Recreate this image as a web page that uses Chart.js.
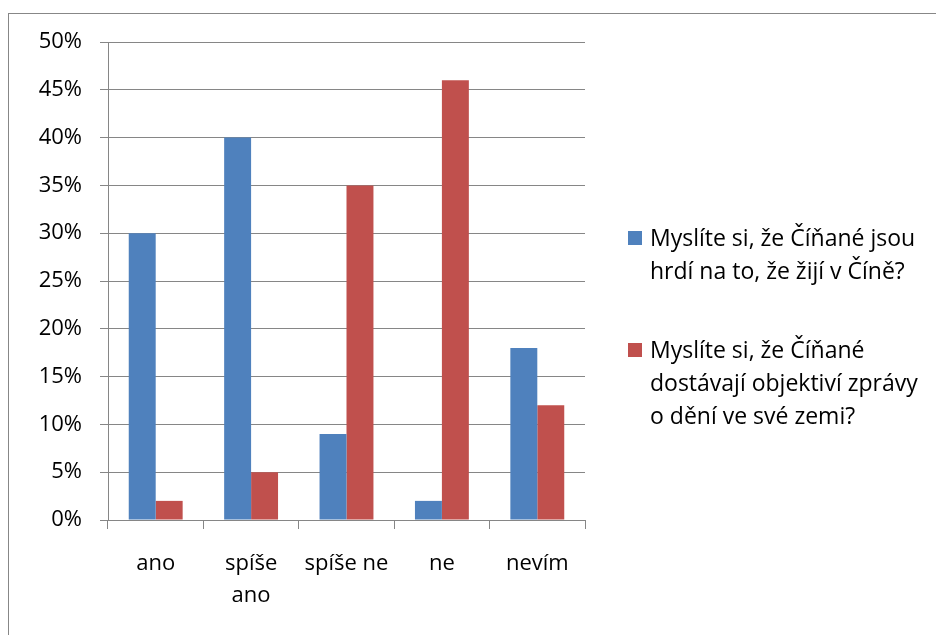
<!DOCTYPE html>
<html>
<head>
<meta charset="utf-8">
<script src="https://cdn.jsdelivr.net/npm/chart.js@4"></script>
<style>
  html, body { margin: 0; padding: 0; background: #fff; overflow: hidden; }
  #frame { position: absolute; left: 8px; top: 13px; width: 2000px; height: 2000px;
           border-left: 1px solid #878787; border-top: 1px solid #878787; }
  #wrap { position: absolute; left: 0; top: 0; width: 936px; height: 635px; }
</style>
</head>
<body>
<div id="frame"></div>
<div id="wrap"><canvas id="c" width="936" height="635"></canvas></div>
<script>
const categories = [["ano"], ["spíše", "ano"], ["spíše ne"], ["ne"], ["nevím"]];
const seriesProud = [30, 40, 9, 2, 18];
const seriesNews = [2, 5, 35, 46, 12];
const seriesLabels = [
  "Myslíte si, že Číňané jsou hrdí na to, že žijí v Číně?",
  "Myslíte si, že Číňané dostávají objektiví zprávy o dění ve své zemi?"
];
const legendLines = [
  ["Myslíte si, že Číňané jsou", "hrdí na to, že žijí v Číně?"],
  ["Myslíte si, že Číňané", "dostávají objektiví zprávy", "o dění ve své zemi?"]
];
const yTicks = [0, 5, 10, 15, 20, 25, 30, 35, 40, 45, 50];
const colors = ["#4F81BD", "#C0504D"];

const FONT = "'Open Sans', sans-serif";
const FSIZE = 22;
const LSIZE = 23;
const gridColor = "#868686";

const legendPlugin = {
  id: "sideLegend",
  afterDraw(chart) {
    const ctx = chart.ctx;
    ctx.save();
    ctx.font = LSIZE + "px " + FONT;
    ctx.textBaseline = "middle";
    ctx.textAlign = "left";
    const starts = [238, 350];
    chart.data.datasets.forEach((ds, i) => {
      const y0 = starts[i];
      ctx.fillStyle = ds.backgroundColor;
      ctx.fillRect(628, y0 - 7, 14, 14);
      ctx.fillStyle = "#000";
      legendLines[i].forEach((line, j) => {
        ctx.fillText(line, 650, y0 + 1 + j * 33);
      });
    });
    ctx.restore();
  }
};

new Chart(document.getElementById("c"), {
  type: "bar",
  data: {
    labels: categories,
    datasets: [
      { label: seriesLabels[0], data: seriesProud, backgroundColor: colors[0],
        barPercentage: 1.0, categoryPercentage: 0.565 },
      { label: seriesLabels[1], data: seriesNews, backgroundColor: colors[1],
        barPercentage: 1.0, categoryPercentage: 0.565 }
    ]
  },
  options: {
    responsive: false,
    animation: false,
    layout: { padding: { left: 0, top: 42, right: 351, bottom: 0 } },
    plugins: { legend: { display: false }, tooltip: { enabled: false } },
    scales: {
      x: {
        grid: { display: true, drawOnChartArea: false, color: gridColor, tickLength: 9, lineWidth: 1, offset: true },
        border: { display: true, color: gridColor, width: 1 },
        ticks: { color: "#000", font: { family: FONT, size: FSIZE, lineHeight: 1.45 }, padding: 19, maxRotation: 0, autoSkip: false },
        afterFit(scale) { scale.height = 115; }
      },
      y: {
        min: 0, max: 50,
        afterBuildTicks(scale) { scale.ticks = yTicks.map(v => ({ value: v })); },
        grid: { color: gridColor, tickLength: 8, lineWidth: 1 },
        border: { display: true, color: gridColor, width: 1 },
        ticks: { color: "#000", font: { family: FONT, size: FSIZE }, padding: 18,
                 callback: v => v + "%" },
        afterFit(scale) { scale.width = 108; }
      }
    }
  },
  plugins: [legendPlugin]
});
</script>
</body>
</html>
